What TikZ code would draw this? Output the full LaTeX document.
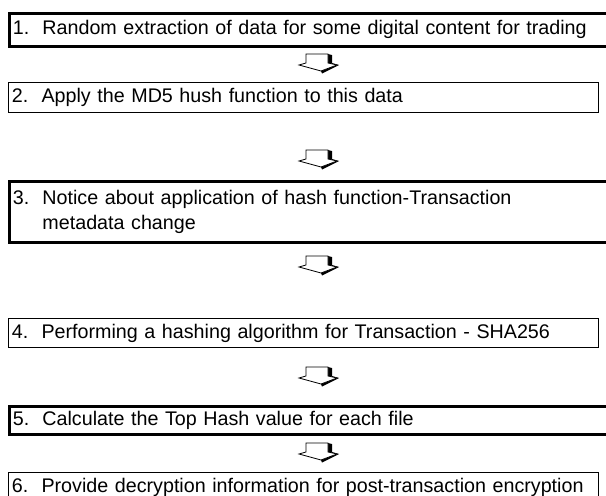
\documentclass[tikz,border=0pt]{standalone}
\usepackage{fontspec}
\setmainfont{Liberation Sans}
\newfontfamily\stepfont{Liberation Sans}
\begin{document}
\begin{tikzpicture}[x=1pt,y=-1pt,
  box/.style={draw, line width=1pt, anchor=north west, inner xsep=3.5pt, inner ysep=0pt,
    align=left, font=\stepfont\fontsize{19.7}{24.5}\selectfont,
    minimum width=590, text width=583, minimum height=30},
  widebox/.style={box, line width=2.8pt, minimum width=606, text width=599},
  pics/downarrow/.style={code={
    % shaded right side and underside of the block arrow
    \fill[black] (10,0) -- (14,1) -- (14,9) -- (21,11) -- (4,19.5) -- (3,17) -- (19,11) -- (10,9) -- cycle;
    % white face of the block arrow
    \draw[fill=white, line width=0.8pt, line join=miter] (-12,0) -- (10,0) -- (10,9) -- (19,11) -- (3,17) -- (-19,11) -- (-12,9) -- cycle;
  }}
]
\useasboundingbox (0,0) rectangle (606,496);

\node[widebox, minimum height=33] (s1) at (8,12) {1.\ \ Random extraction of data for some digital content for trading};
\node[box] (s2) at (8,82) {2.\ \ Apply the MD5 hush function to this data};
\node[widebox, minimum height=61] (s3) at (8,180) {3.\ \ Notice about application of hash function-Transaction\\\hphantom{3.\ \ }metadata change};
\node[box, minimum height=29] (s4) at (8,318) {4.\ \ Performing a hashing algorithm for Transaction - SHA256};
\node[widebox, minimum height=28] (s5) at (8,405) {5.\ \ Calculate the Top Hash value for each file};
\node[box] (s6) at (8,472) {6.\ \ Provide decryption information for post-transaction encryption};

\pic (a1) at (318,54) {downarrow};
\pic (a2) at (318,150) {downarrow};
\pic (a3) at (318,256) {downarrow};
\pic (a4) at (318,367) {downarrow};
\pic (a5) at (318,443) {downarrow};
\end{tikzpicture}
\end{document}
